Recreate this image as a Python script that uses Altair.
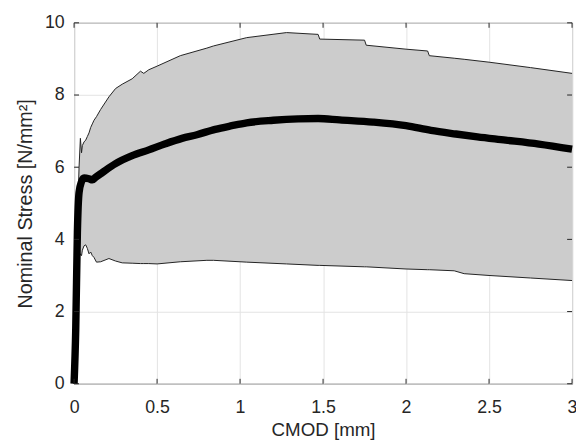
import altair as alt
import pandas as pd

# Mean curve
mean_x = [0.0, 0.01, 0.02, 0.03, 0.045, 0.06, 0.09, 0.11, 0.13, 0.17, 0.25, 0.35, 0.45,
          0.55, 0.65, 0.74, 0.85, 0.95, 1.04, 1.2, 1.35, 1.47, 1.6, 1.8, 2.0, 2.15,
          2.3, 2.43, 2.6, 2.8, 3.0]
mean_y = [0.0, 1.5, 4.2, 5.3, 5.6, 5.7, 5.68, 5.65, 5.72, 5.85, 6.1, 6.32, 6.48,
          6.65, 6.8, 6.9, 7.05, 7.15, 7.23, 7.3, 7.34, 7.35, 7.31, 7.25, 7.15, 7.02,
          6.92, 6.84, 6.75, 6.64, 6.5]

# Envelope (min / max of all specimens)
env_x = [0.0, 0.02, 0.03, 0.038, 0.045, 0.05, 0.06, 0.07, 0.08, 0.09, 0.1, 0.11, 0.12,
         0.135, 0.16, 0.21, 0.25, 0.29, 0.35, 0.4, 0.42, 0.45, 0.5, 0.64, 0.8, 0.84,
         1.04, 1.28, 1.47, 1.48, 1.75, 1.76, 2.0, 2.13, 2.14, 2.29, 2.35, 2.5, 2.75, 3.0]
env_lower = [0.0, 3.0, 3.5, 3.6, 3.55, 3.7, 3.82, 3.85, 3.75, 3.6, 3.65, 3.55, 3.5,
             3.37, 3.38, 3.47, 3.4, 3.35, 3.34, 3.33, 3.33, 3.33, 3.32, 3.38, 3.42, 3.42,
             3.37, 3.32, 3.28, 3.28, 3.24, 3.24, 3.18, 3.16, 3.16, 3.13, 3.05, 3.0, 2.93, 2.86]
env_upper = [0.0, 4.5, 6.0, 6.8, 6.4, 6.6, 6.7, 6.75, 6.85, 6.95, 7.1, 7.2, 7.3,
             7.4, 7.6, 7.95, 8.18, 8.3, 8.45, 8.66, 8.6, 8.7, 8.8, 9.09, 9.3, 9.36,
             9.59, 9.73, 9.68, 9.55, 9.52, 9.38, 9.27, 9.22, 9.09, 9.02, 8.99, 8.91, 8.76, 8.6]

x_ticks = [0, 0.5, 1, 1.5, 2, 2.5, 3]
y_ticks = [0, 2, 4, 6, 8, 10]

W, H = 505, 366
FONT = "Liberation Sans"
TICK = 5
TXT = "#262626"

mean_df = pd.DataFrame({"x": mean_x, "y": mean_y})
env_df = pd.DataFrame({"x": env_x, "lo": env_lower, "hi": env_upper})
xt_df = pd.DataFrame({"v": x_ticks})
yt_df = pd.DataFrame({"v": y_ticks})

xscale = alt.Scale(domain=[0, 3], nice=False, zero=False)
yscale = alt.Scale(domain=[0, 10], nice=False, zero=False)

xaxis = alt.Axis(values=x_ticks, format="~f", title="CMOD [mm]", grid=True,
                 gridColor="#e3e3e3", tickSize=0, labelPadding=15, titlePadding=4,
                 domain=False, labelFont=FONT, labelFontSize=18, labelColor=TXT,
                 titleFont=FONT, titleFontSize=19, titleFontWeight="normal",
                 titleColor=TXT, labelFlush=False)
yaxis = alt.Axis(values=y_ticks, format="~f", title="Nominal Stress [N/mm²]", grid=True,
                 gridColor="#e3e3e3", tickSize=0, labelPadding=10, titlePadding=9,
                 domain=False, labelFont=FONT, labelFontSize=18, labelColor=TXT,
                 titleFont=FONT, titleFontSize=20, titleFontWeight="normal",
                 titleColor=TXT, labelFlush=False)

band = alt.Chart(env_df).mark_area(color="#cccccc", opacity=1).encode(
    x=alt.X("x:Q", scale=xscale, axis=xaxis),
    y=alt.Y("lo:Q", scale=yscale, axis=yaxis),
    y2="hi:Q",
)
lo_line = alt.Chart(env_df).mark_line(color="#222222", strokeWidth=1).encode(
    x=alt.X("x:Q", scale=xscale), y=alt.Y("lo:Q", scale=yscale))
hi_line = alt.Chart(env_df).mark_line(color="#222222", strokeWidth=1).encode(
    x=alt.X("x:Q", scale=xscale), y=alt.Y("hi:Q", scale=yscale))
mean_line = alt.Chart(mean_df).mark_line(color="black", strokeWidth=7.5,
                                         interpolate="monotone").encode(
    x=alt.X("x:Q", scale=xscale), y=alt.Y("y:Q", scale=yscale))

xt_bottom = alt.Chart(xt_df).mark_rule(color=TXT).encode(
    x=alt.X("v:Q", scale=xscale), y=alt.value(H), y2=alt.value(H - TICK))
xt_top = alt.Chart(xt_df).mark_rule(color=TXT).encode(
    x=alt.X("v:Q", scale=xscale), y=alt.value(0), y2=alt.value(TICK))
yt_left = alt.Chart(yt_df).mark_rule(color=TXT).encode(
    y=alt.Y("v:Q", scale=yscale), x=alt.value(0), x2=alt.value(TICK))
yt_right = alt.Chart(yt_df).mark_rule(color=TXT).encode(
    y=alt.Y("v:Q", scale=yscale), x=alt.value(W), x2=alt.value(W - TICK))

chart = alt.layer(band, lo_line, hi_line, mean_line,
                  xt_bottom, xt_top, yt_left, yt_right).properties(
    width=W, height=H,
    autosize=alt.AutoSizeParams(type="none"),
    padding={"left": 67, "top": 12, "right": 4, "bottom": 55},
    background="white",
).configure_view(stroke=TXT, strokeWidth=1, clip=False)

chart.save("out.html", embed_options={"renderer": "svg", "actions": False})
